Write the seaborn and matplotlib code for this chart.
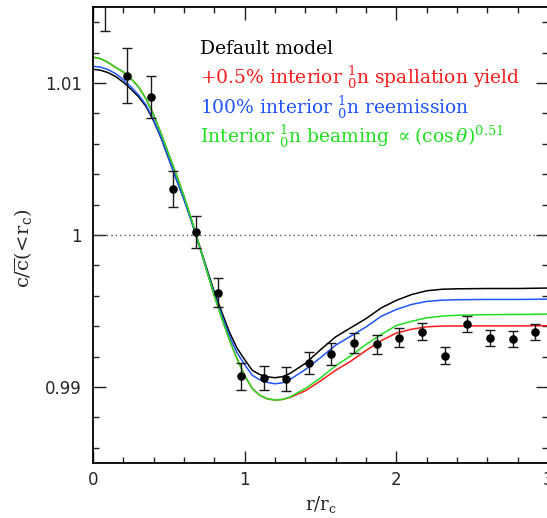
import numpy as np
import pandas as pd
import matplotlib
matplotlib.use("Agg")
import matplotlib.pyplot as plt
from matplotlib.ticker import MultipleLocator, FixedLocator
import seaborn as sns

# Model curves: c / c̄(<r_c) against r / r_c
r_grid = [0.0, 0.05, 0.1, 0.15, 0.2, 0.25, 0.3, 0.35, 0.4, 0.45, 0.5, 0.55, 0.6,
          0.65, 0.7, 0.75, 0.8, 0.85, 0.9, 0.95, 1.0, 1.05, 1.1, 1.15, 1.2, 1.25,
          1.3, 1.4, 1.5, 1.6, 1.7, 1.8, 1.9, 2.0, 2.1, 2.2, 2.3, 2.4, 2.6, 2.8, 3.0]
c_default = [1.01090, 1.01084, 1.01068, 1.01042, 1.01005, 1.00960, 1.00910, 1.00845,
             1.00750, 1.00635, 1.00500, 1.00365, 1.00235, 1.00090, 0.99935, 0.99780,
             0.99625, 0.99490, 0.99360, 0.99255, 0.99180, 0.99110, 0.99082, 0.99067,
             0.99061, 0.99068, 0.99090, 0.99155, 0.99245, 0.99330, 0.99390, 0.99450,
             0.99520, 0.99570, 0.99608, 0.99633, 0.99643, 0.99646, 0.99648, 0.99648,
             0.99651]
c_spallation = [1.01170, 1.01160, 1.01135, 1.01102, 1.01072, 1.01030, 1.00975, 1.00895,
                1.00790, 1.00665, 1.00530, 1.00395, 1.00255, 1.00100, 0.99935, 0.99765,
                0.99600, 0.99450, 0.99310, 0.99185, 0.99075, 0.98990, 0.98945, 0.98922,
                0.98914, 0.98918, 0.98932, 0.98975, 0.99040, 0.99110, 0.99170, 0.99240,
                0.99305, 0.99355, 0.99380, 0.99396, 0.99401, 0.99402, 0.99402, 0.99402,
                0.99403]
c_reemission = [1.01110, 1.01104, 1.01088, 1.01061, 1.01022, 1.00975, 1.00922, 1.00855,
                1.00757, 1.00640, 1.00503, 1.00367, 1.00235, 1.00088, 0.99930, 0.99770,
                0.99610, 0.99468, 0.99335, 0.99225, 0.99147, 0.99077, 0.99047, 0.99030,
                0.99021, 0.99028, 0.99050, 0.99115, 0.99193, 0.99275, 0.99335, 0.99395,
                0.99465, 0.99510, 0.99543, 0.99563, 0.99571, 0.99574, 0.99576, 0.99576,
                0.99578]
c_beaming = [1.01170, 1.01160, 1.01135, 1.01102, 1.01072, 1.01030, 1.00975, 1.00895,
             1.00790, 1.00665, 1.00530, 1.00395, 1.00255, 1.00100, 0.99935, 0.99765,
             0.99600, 0.99450, 0.99310, 0.99185, 0.99075, 0.98990, 0.98945, 0.98922,
             0.98914, 0.98918, 0.98935, 0.98990, 0.99060, 0.99140, 0.99205, 0.99280,
             0.99345, 0.99405, 0.99432, 0.99455, 0.99466, 0.99472, 0.99476, 0.99477,
             0.99480]

# Measured profile with 1-sigma errors
r_obs = [0.079, 0.227, 0.380, 0.527, 0.680, 0.826, 0.975, 1.126, 1.274, 1.425,
         1.572, 1.720, 1.871, 2.020, 2.168, 2.319, 2.468, 2.618, 2.767, 2.916]
c_obs = [1.0165, 1.01048, 1.00906, 1.00303, 1.00018, 0.99620, 0.99070, 0.99059,
         0.99051, 0.99158, 0.99217, 0.99291, 0.99281, 0.99325, 0.99364, 0.99206,
         0.99414, 0.99325, 0.99314, 0.99362]
c_err = [0.0031, 0.0018, 0.00137, 0.0012, 0.00105, 0.00095, 0.00087, 0.00079,
         0.00078, 0.00071, 0.0007, 0.00066, 0.00063, 0.0006, 0.00058, 0.00056,
         0.00052, 0.00053, 0.00053, 0.0005]

model_names = ["Default model", "spallation", "reemission", "beaming"]
model_colors = ["#000000", "#ff1a1a", "#1f55ff", "#1ee01e"]

sns.set_style("ticks")
plt.rcParams["mathtext.fontset"] = "dejavuserif"

curves = pd.concat([
    pd.DataFrame({"r": r_grid, "c": vals, "model": name})
    for name, vals in zip(model_names, [c_default, c_spallation, c_reemission, c_beaming])
], ignore_index=True)
obs = pd.DataFrame({"r": r_obs, "c": c_obs, "err": c_err})

W, H = 547, 518
fig = plt.figure(figsize=(W / 100, H / 100), dpi=100)
x0, x1, y0, y1 = 93, 548, 7, 463
ax = fig.add_axes([x0 / W, 1 - y1 / H, (x1 - x0) / W, (y1 - y0) / H])

ax.axhline(1.0, color="#555555", lw=1.0, ls=(0, (1, 2.2)), zorder=1)

sns.lineplot(data=curves, x="r", y="c", hue="model", hue_order=model_names,
             palette=model_colors, lw=1.1, legend=False, ax=ax, zorder=2,
             estimator=None, sort=False)

ax.errorbar(obs["r"], obs["c"], yerr=obs["err"], fmt="none", ecolor="#1a1a1a",
            elinewidth=1.0, capsize=3.5, capthick=1.0, zorder=3)
sns.scatterplot(data=obs, x="r", y="c", color="black", s=38, edgecolor="black",
                linewidth=0, ax=ax, zorder=4)

ax.set_xlim(0, 3)
ax.set_ylim(0.985, 1.015)
ax.xaxis.set_major_locator(FixedLocator([0, 1, 2, 3]))
ax.xaxis.set_minor_locator(MultipleLocator(0.2))
ax.yaxis.set_major_locator(FixedLocator([0.99, 1.0, 1.01]))
ax.yaxis.set_minor_locator(MultipleLocator(0.002))
ax.set_yticklabels(["0.99", "1", "1.01"])
ax.set_xticklabels(["0", "1", "2", "3"])

ax.tick_params(which="both", direction="in", top=True, right=True, width=1.0,
               color="#222222")
ax.tick_params(which="major", length=9, labelsize=12)
ax.tick_params(axis="x", which="major", pad=6)
ax.tick_params(axis="y", which="major", pad=8)
ax.tick_params(which="minor", length=4.5)
for sp in ax.spines.values():
    sp.set_linewidth(1.3)
    sp.set_color("black")

ax.set_xlabel(r"$\mathrm{r/r_c}$", fontsize=13)
ax.set_ylabel(r"$\mathrm{c/\overline{c}(}\!<\!\mathrm{r_c)}$", fontsize=14)
ax.xaxis.set_label_coords(0.5, -0.068)
ax.yaxis.set_label_coords(-0.13, 0.47)

labels = [
    "Default model",
    r"+0.5% interior $^{1}_{0}$n spallation yield",
    r"100% interior $^{1}_{0}$n reemission",
    r"Interior $^{1}_{0}$n beaming $\propto(\cos\theta)^{0.51}$",
]
baselines = [54, 84, 114, 143]
for text, col, yb in zip(labels, model_colors, baselines):
    fig.text(200 / W, 1 - yb / H, text, color=col, fontsize=13.5,
             family="DejaVu Serif", va="baseline", ha="left")

fig.savefig("out.png", dpi=100)
